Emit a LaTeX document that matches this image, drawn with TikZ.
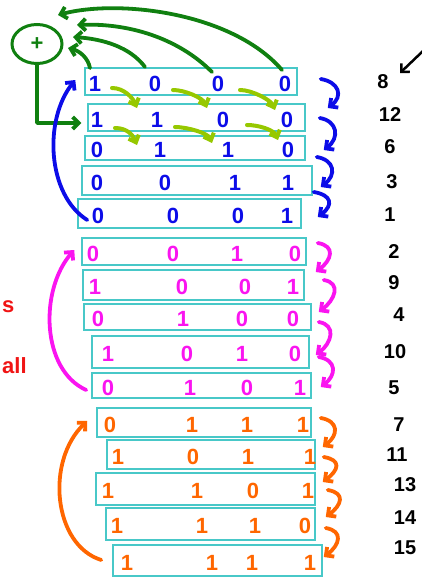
\documentclass[tikz,border=0pt]{standalone}
\usepackage{fontspec}
\setmainfont{Liberation Sans}
\usetikzlibrary{arrows.meta, positioning, calc, shapes.geometric}
\definecolor{penblue}{RGB}{12,12,232}
\definecolor{penpink}{RGB}{250,20,240}
\definecolor{penorange}{RGB}{255,102,0}
\definecolor{pengreen}{RGB}{16,128,16}
\definecolor{penlime}{RGB}{150,200,0}
\definecolor{penred}{RGB}{240,20,20}
\definecolor{boxline}{RGB}{72,200,200}
\tikzset{
  %% ---- boxes ----
  rowbox/.style  = {rectangle, draw=boxline, line width=1.5pt, inner sep=0pt},
  digit/.style   = {text=#1, inner sep=0pt,
                    font=\fontsize{22}{22}\selectfont\bfseries},
  num/.style     = {text=black, inner sep=0pt,
                    font=\fontsize{20}{20}\selectfont\bfseries},
  sumnode/.style = {ellipse, draw=pengreen, line width=3pt, inner sep=0pt,
                    minimum width=50pt, minimum height=39pt, text=pengreen,
                    font=\fontsize{22}{22}\selectfont\bfseries},
  redtext/.style = {text=penred, inner sep=0pt,
                    font=\fontsize{22}{22}\selectfont\bfseries},
  %% ---- arrows ----
  pen/.style     = {draw=#1, line width=3.8pt, line cap=round, line join=round,
                    -{Straight Barb[length=6pt, width=12pt]}},
  limearrow/.style = {draw=penlime, line width=4pt, line cap=round, line join=round,
                    -{Straight Barb[length=6pt, width=11pt]}},
  pointarrow/.style = {draw=black, line width=2.5pt, line cap=round, line join=round,
                    -{Straight Barb[length=6pt, width=12pt]}},
}

\begin{document}
\begin{tikzpicture}[x=1pt, y=-1pt]
  \useasboundingbox (0,0) rectangle (422,578);

  %% rows: boxes, bits and the value on the right
  \foreach \i/\cx/\cy/\w/\h/\col/\n/\nx/\ny/\da/\xa/\db/\xb/\dc/\xc/\dd/\xd in {
      1/191/81.5/212/27/penblue/8/383/82/1/95/0/155/0/218/0/285,
      2/196.5/117.5/217/27/penblue/12/390/115/1/97/1/157/0/223/0/287,
      3/195/148/220/24/penblue/6/390/147/0/97/1/160/1/228/0/288,
      4/197/180.5/230/29/penblue/3/392/182/0/97/0/165/1/235/1/288,
      5/189.5/213.5/223/29/penblue/1/390/215/0/98/0/173/0/238/1/287,
      6/194/251.5/224/27/penpink/2/394/252/0/93/0/173/1/237/0/295,
      7/193.5/285/221/30/penpink/9/394/283/1/95/0/182/0/245/1/293,
      8/197.5/317/227/26/penpink/4/399/315/0/98/1/183/0/242/0/293,
      9/200.5/352/217/32/penpink/10/395/352/1/108/0/187/1/242/0/295,
      10/201.5/385.5/219/25/penpink/5/394/388/0/108/1/190/0/247/1/300,
      11/204/422.5/214/29/penorange/7/399/425/0/110/1/192/1/247/1/303,
      12/211/454.5/208/29/penorange/11/397/455/1/118/0/193/1/248/1/310,
      13/205.5/489/219/32/penorange/13/405/485/1/108/1/197/0/253/1/308,
      14/210.5/524/209/32/penorange/14/405/518/1/117/1/202/1/255/0/305,
      15/217.5/560.5/209/31/penorange/15/405/548/1/127/1/212/1/252/1/310} {
    \node[rowbox, minimum width=\w pt, minimum height=\h pt] (r\i) at (\cx,\cy) {};
    \node[digit=\col] (d\i-1) at (\xa,\cy+2) {\da};
    \node[digit=\col] (d\i-2) at (\xb,\cy+2) {\db};
    \node[digit=\col] (d\i-3) at (\xc,\cy+2) {\dc};
    \node[digit=\col] (d\i-4) at (\xd,\cy+2) {\dd};
    \node[num] (n\i) at (\nx,\ny) {\n};
  }

  %% sum of the taps
  \node[sumnode] (plus) at (37,44) {+};

  \draw[pen=pengreen] ([shift={(-5,-15.5)}]d1-1.center)
    .. controls +(-2,-10) and +(12,3) .. ([shift={(31,4)}]plus.center);
  \draw[pen=pengreen] ([shift={(-10,-16.5)}]d1-2.center)
    .. controls +(-15,-20) and +(30,2) .. ([shift={(36,-7)}]plus.center);
  \draw[pen=pengreen] ([shift={(-6,-11.5)}]d1-3.center)
    .. controls +(-35,-35) and +(50,-2) .. ([shift={(40,-19)}]plus.center);
  \draw[pen=pengreen] ([shift={(-3,-13.5)}]d1-4.center)
    .. controls +(-50,-58) and +(60,-16) .. ([shift={(21,-29)}]plus.center);
  \draw[pen=pengreen] (plus.south) |- ([shift={(-6,5.5)}]r2.west);

  %% shift of the bits
  \foreach \a/\ca/\b/\cb/\sx/\sy/\ex/\ey in {
      1/1/2/2/17/4.5/-20/-11.5, 1/2/2/3/18/6.5/-16/-11.5, 1/3/2/4/22/6.5/-12/-9.5,
      2/1/3/2/18/8.5/-23/-5,    2/2/3/3/18/7.5/-16/-7,    2/3/3/4/24/5.5/-10/-10}
    \draw[limearrow] ([shift={(\sx,\sy)}]d\a-\ca.center)
      .. controls +(12,0) and +(-4,-10) .. ([shift={(\ex,\ey)}]d\b-\cb.center);

  %% steps on the right
  \foreach \a/\b/\sx/\sy/\ex/\ey/\col in {
      1/2/23/-2.5/22/-9.5/penblue, 2/3/14/0.5/18/2/penblue,
      3/4/11/9/8/6.5/penblue,      4/5/1/11.5/16/3.5/penblue,
      6/7/11/-8.5/11/-13/penpink,  7/8/19/-5/7/-5/penpink,
      8/9/7/5/6/3/penpink,         9/10/9/5/9/1.5/penpink,
      11/12/9/-4.5/7/-7.5/penorange, 12/13/8/2.5/7/-7/penorange,
      13/14/12/1/10/-7/penorange,    14/15/10/4/1/-3.5/penorange}
    \draw[pen=\col] ([shift={(\sx,\sy)}]r\a.east)
      .. controls +(18,3) and +(16,-12) .. ([shift={(\ex,\ey)}]r\b.east);

  %% back to the start of each cycle
  \draw[pen=penblue] ([shift={(10,6.5)}]r5.west)
    .. controls +(-40,-25) and +(-32,40) .. ([shift={(-9,-1.5)}]r1.west);
  \draw[pen=penpink] ([shift={(-5,4.5)}]r10.west)
    .. controls +(-45,-20) and +(-35,40) .. ([shift={(-7,-1.5)}]r6.west);
  \draw[pen=penorange] ([shift={(-11,-0.5)}]r15.west)
    .. controls +(-48,-15) and +(-42,40) .. ([shift={(-9,-1.5)}]r11.west);

  %% seed
  \coordinate (pointer) at (423,51);
  \draw[pointarrow] (pointer) -- ([shift={(17,-9)}]n1.center);

  \node[redtext, anchor=base west] (lbls) at (2,312) {s};
  \node[redtext, anchor=base west] (lbla) at (2,373) {all};

\end{tikzpicture}
\end{document}
